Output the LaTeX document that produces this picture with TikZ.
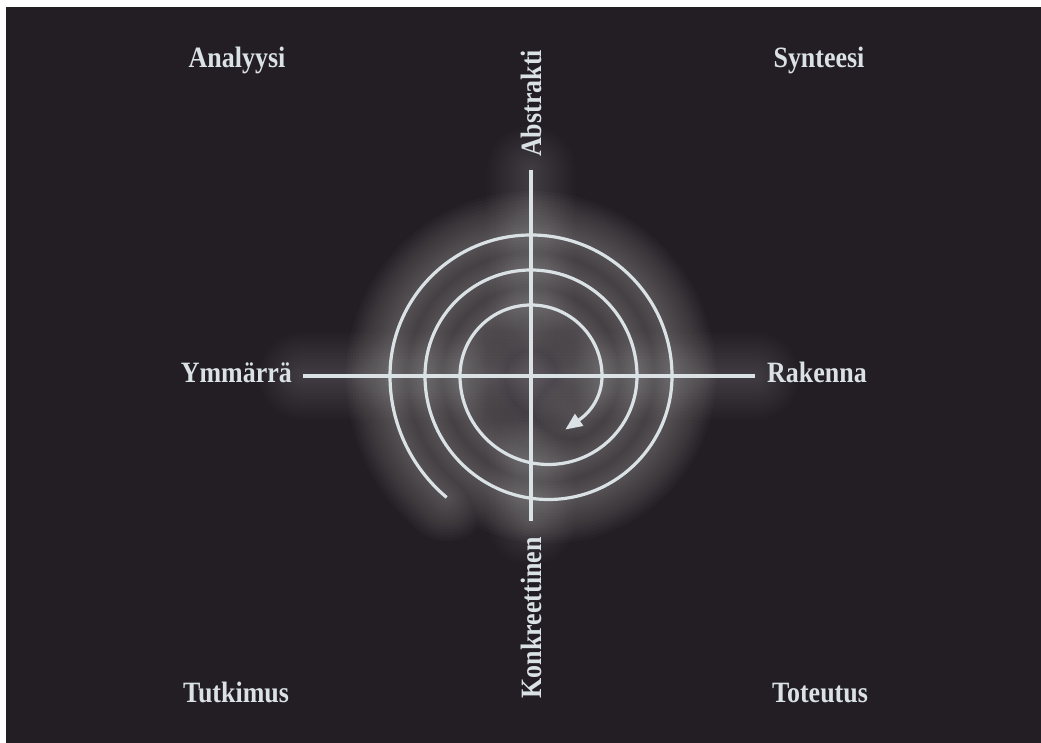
\documentclass[tikz,border=0pt]{standalone}
\usepackage{fontspec}
\setmainfont{Liberation Serif}[FakeStretch=0.88]
\usetikzlibrary{arrows.meta}
\definecolor{bg}{RGB}{35,30,35}
\definecolor{fg}{RGB}{218,226,229}
\pgfdeclarelayer{bgl}
\pgfdeclarelayer{glow}
\pgfsetlayers{bgl,glow,main}
\begin{document}
\begin{tikzpicture}[x=1pt,y=1pt,
  lbl/.style={text=fg, font=\bfseries\fontsize{29.5}{34}\selectfont, inner sep=0pt},
  ax/.style={draw=fg, line width=3.2pt},
  glowline/.style={draw=white, line cap=round, line join=round}]
\useasboundingbox (0,0) rectangle (1041,743);
\begin{pgfonlayer}{bgl}
\fill[white] (0,0) rectangle (1041,743);
\fill[bg] (6,0) rectangle (1041,736);
\end{pgfonlayer}
% labels
\node[lbl, anchor=base] (ana) at (237,675) {Analyysi};
\node[lbl, anchor=base] (syn) at (819,675) {Synteesi};
\node[lbl, anchor=base] (tut) at (236,40) {Tutkimus};
\node[lbl, anchor=base] (tot) at (820,40) {Toteutus};
\node[lbl, text height=19pt, text depth=5pt, inner xsep=11pt, anchor=east] (ymm) at (303,367) {Ymmärrä};
\node[lbl, text height=19pt, text depth=5pt, inner xsep=12pt, anchor=west] (rak) at (755,367) {Rakenna};
\node[lbl, rotate=90, text height=20pt, text depth=0pt, inner xsep=13pt, anchor=west] (abs) at (531,573) {Abstrakti};
\node[lbl, rotate=90, text height=20pt, text depth=0pt, inner xsep=16pt, anchor=east] (kon) at (531,222) {Konkreettinen};
% glow
\begin{pgfonlayer}{glow}
\foreach \w in {88,82,...,4}{
  \draw[glowline, line width=\w pt, opacity=0.011] (ymm.east) -- (rak.west);
  \draw[glowline, line width=\w pt, opacity=0.011] (abs.west) -- (kon.east);
  \draw[glowline, line width=\w pt, opacity=0.02]
    ([shift={(230:158.5)}]548.5,367)
    arc[start angle=230,end angle=180,radius=158.5]
    arc[start angle=180,end angle=0,radius=141]
    arc[start angle=0,end angle=-180,radius=123.5]
    arc[start angle=180,end angle=0,radius=106]
    arc[start angle=0,end angle=-180,radius=88.5]
    arc[start angle=180,end angle=0,radius=71]
    arc[start angle=0,end angle=-55,radius=53.5];
}
\end{pgfonlayer}
% axes
\draw[ax] (ymm.east) -- (rak.west);
\draw[ax] (abs.west) -- (kon.east);
% spiral
\draw[ax, -{Triangle[length=17pt,width=14pt]}]
    ([shift={(230:158.5)}]548.5,367)
    arc[start angle=230,end angle=180,radius=158.5]
    arc[start angle=180,end angle=0,radius=141]
    arc[start angle=0,end angle=-180,radius=123.5]
    arc[start angle=180,end angle=0,radius=106]
    arc[start angle=0,end angle=-180,radius=88.5]
    arc[start angle=180,end angle=0,radius=71]
    arc[start angle=0,end angle=-55,radius=53.5] -- ++(215:17);
\end{tikzpicture}
\end{document}
